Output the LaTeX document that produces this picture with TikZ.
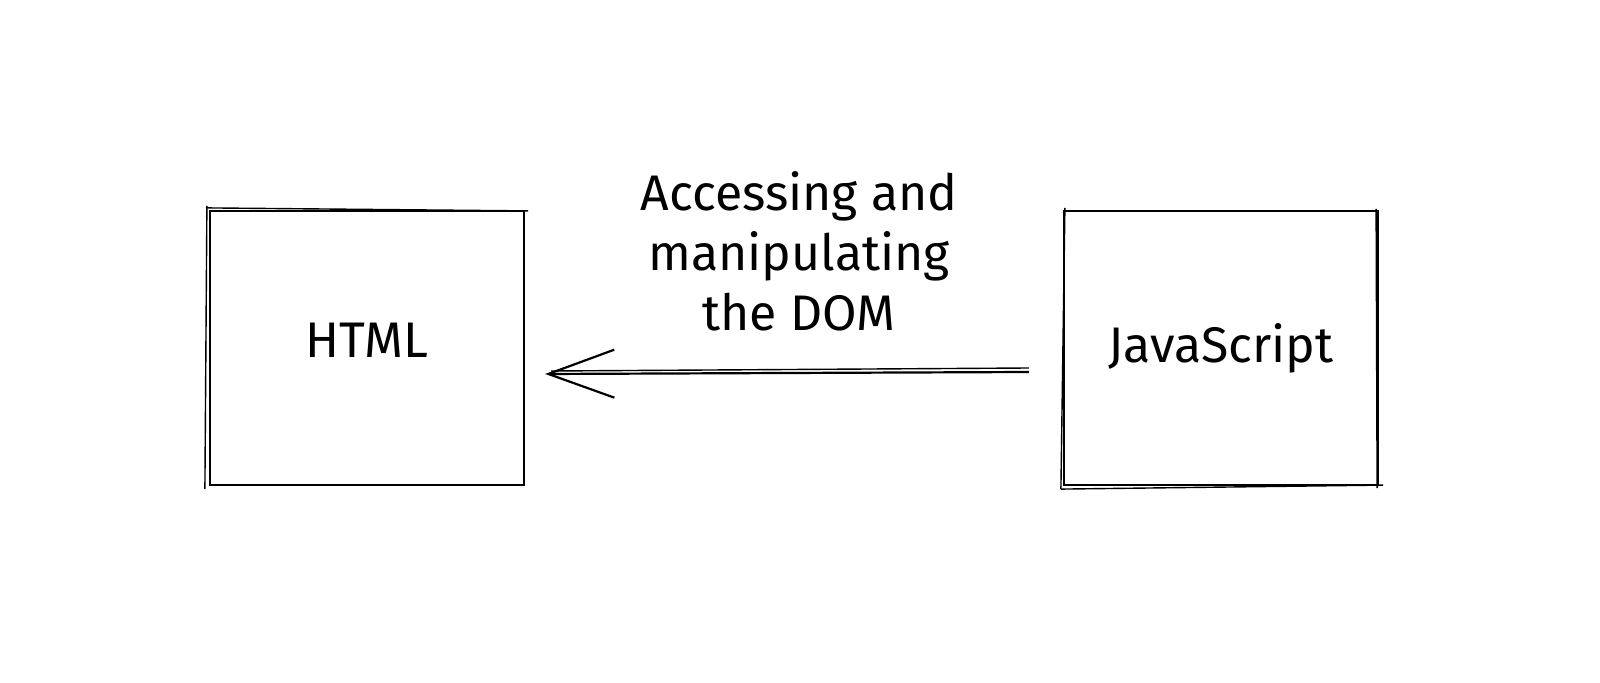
\documentclass[tikz,border=0pt]{standalone}
\usepackage{fontspec}
\setmainfont{Fira Sans}
\usetikzlibrary{arrows.meta}
\begin{document}
\begin{tikzpicture}[x=0.5pt,y=-0.5pt,
  box/.style={draw=black, line width=1.1pt, minimum width=157pt, minimum height=137pt, inner sep=0pt, font=\fontsize{25}{30}\selectfont},
  sketch/.style={draw=black, line width=0.7pt},
  lbl/.style={font=\fontsize{25}{30}\selectfont, align=center},
  conn/.style={draw=black, line width=1.1pt, -{Straight Barb[length=33pt,width=24pt,line width=1.1pt]}}]
\useasboundingbox[fill=white] (0,0) rectangle (1600,683);
\node[box] (html) at (367,348) {\raisebox{8pt}{HTML}};
\node[box] (js) at (1221,348) {JavaScript};
% sketchy second strokes
\draw[sketch] ([shift={(-3,-2)}]html.north west) -- ([shift={(3,1)}]html.north east);
\draw[sketch] ([shift={(-2,-4)}]html.north west) -- ([shift={(-4,3)}]html.south west);
\draw[sketch] ([shift={(2,-2)}]js.north west) -- ([shift={(-2,3)}]js.south west);
\draw[sketch] ([shift={(-2,3)}]js.south west) -- ([shift={(4,-1)}]js.south east);
\draw[sketch] ([shift={(-3,-1)}]js.north east) -- ([shift={(-2,2)}]js.south east);
\node[lbl] (txt) at (799,251) {Accessing and\\manipulating\\the DOM};
\coordinate (jsl) at ([shift={(-34,24)}]js.west);
\coordinate (htr) at ([shift={(20,26)}]html.east);
\draw[conn] (jsl) -- (htr);
\draw[sketch] ([shift={(0,-4)}]jsl) -- ([shift={(6,-3)}]htr);
\end{tikzpicture}
\end{document}
